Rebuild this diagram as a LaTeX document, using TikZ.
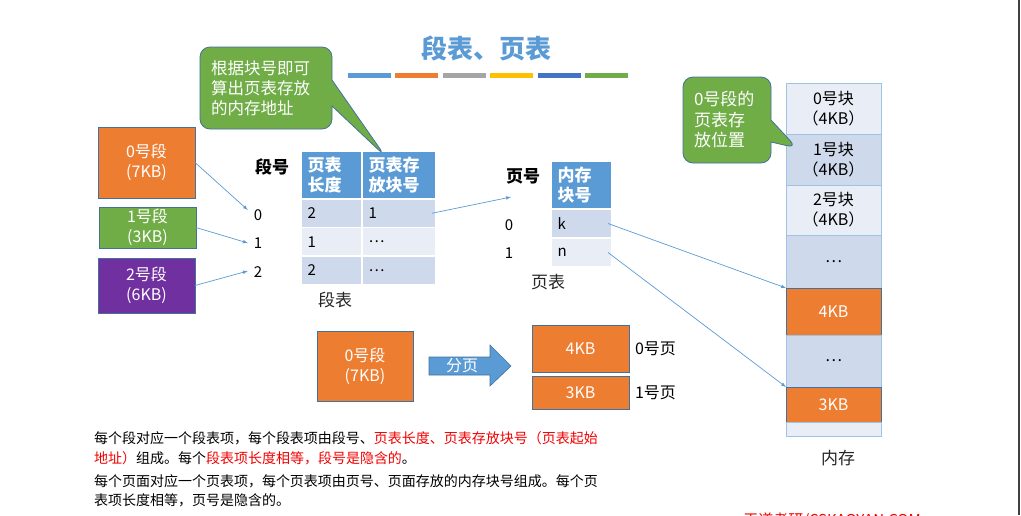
\documentclass[tikz,border=0pt]{standalone}
\usepackage{fontspec}
\setmainfont{Noto Sans CJK SC}
\usepackage{tikz}
\usetikzlibrary{positioning,shapes.callouts}
\definecolor{ppBlue}{HTML}{5B9BD5}
\definecolor{ppOrange}{HTML}{ED7D31}
\definecolor{ppGreen}{HTML}{70AD47}
\definecolor{ppPurple}{HTML}{7030A0}
\definecolor{edgeBlue}{HTML}{41719C}
\definecolor{rowDark}{HTML}{CFD9EC}
\definecolor{rowLight}{HTML}{E9EEF6}
\definecolor{memLine}{HTML}{9DC3E6}
\definecolor{barGray}{HTML}{A5A5A5}
\definecolor{barYellow}{HTML}{FFC000}
\definecolor{barNavy}{HTML}{4472C4}
\colorlet{noteRed}{red!95!black}

\begin{document}
\begin{tikzpicture}[x=1pt, y=-1pt,
    every node/.style={font=\fontsize{15}{18}\selectfont, inner sep=0pt, outer sep=0pt},
    segbox/.style={draw=edgeBlue, line width=0.8pt, text=white, align=center, font=\fontsize{16}{20}\selectfont},
    cell/.style={draw=white, line width=1.5pt, inner xsep=6.5pt, inner ysep=0pt, align=left, font=\fontsize{15}{18}\selectfont},
    headcell/.style={cell, fill=ppBlue, text=white, font=\bfseries\fontsize{17}{20}\selectfont},
    memblock/.style={draw=memLine, line width=0.8pt, fill=rowLight, minimum width=95pt, align=center, font=\fontsize{16}{20}\selectfont},
    hint/.style={rectangle callout, rounded corners=10pt, fill=ppGreen, draw=edgeBlue, line width=0.8pt, text=white, align=left},
    link/.style={-latex, ppBlue, line width=0.7pt},
    label/.style={font=\fontsize{17}{20}\selectfont, text=black!85}]

    \useasboundingbox[fill=white] (0,0) rectangle (1021,515);

    % title and colour bars
    \node[text=ppBlue, font=\bfseries\fontsize{26}{30}\selectfont] (title) at (486,48) {段表、页表};
    \foreach \x/\c in {348/ppBlue, 395/ppOrange, 443/barGray, 490/barYellow, 538/barNavy, 585/ppGreen}
        \draw[\c, line width=5pt] (\x,75) -- ++(43,0);

    % segments of the process
    \node[segbox, fill=ppOrange, minimum width=97pt, minimum height=71pt] (seg0) at (146.5,162.5) {0号段\\(7KB)};
    \node[segbox, fill=ppGreen, minimum width=97pt, minimum height=41pt] (seg1) at (147.5,227.5) {1号段\\(3KB)};
    \node[segbox, fill=ppPurple, minimum width=97pt, minimum height=55pt] (seg2) at (146.5,285.5) {2号段\\(6KB)};

    % segment table
    \node[font=\bfseries\fontsize{17}{20}\selectfont] (segNo) at (272,167) {段号};
    \node (idx0) at (258,215) {0};
    \node (idx1) at (258,243) {1};
    \node (idx2) at (258,272) {2};
    \node[headcell, anchor=north west, text width=48pt, minimum height=48pt] (segLen) at (301,151) {页表\\长度};
    \node[headcell, text width=61pt, minimum height=48pt, right=0pt of segLen] (segBlk) {页表存\\放块号};
    \node[cell, fill=rowDark, text width=48pt, minimum height=28.5pt, below=0pt of segLen] (segLen0) {2};
    \node[cell, fill=rowDark, text width=61pt, minimum height=28.5pt, below=0pt of segBlk] (segBlk0) {1};
    \node[cell, fill=rowLight, text width=48pt, minimum height=28.5pt, below=0pt of segLen0] (segLen1) {1};
    \node[cell, fill=rowLight, text width=61pt, minimum height=28.5pt, below=0pt of segBlk0] (segBlk1) {\dots};
    \node[cell, fill=rowDark, text width=48pt, minimum height=28.5pt, below=0pt of segLen1] (segLen2) {2};
    \node[cell, fill=rowDark, text width=61pt, minimum height=28.5pt, below=0pt of segBlk1] (segBlk2) {\dots};
    \node[label] (segCap) at (335,300) {段表};

    \draw[link] (seg0.east) -- ([shift={(-6,-5)}]idx0.west);
    \draw[link] (seg1.east) -- ([shift={(-6,0)}]idx1.west);
    \draw[link] (seg2.east) -- ([shift={(-6,-1)}]idx2.west);

    % page table of segment 0
    \node[font=\bfseries\fontsize{17}{20}\selectfont] (pgNo) at (523,176) {页号};
    \node (pidx0) at (509,225) {0};
    \node (pidx1) at (509,253) {1};
    \node[headcell, anchor=north west, text width=48pt, minimum height=48pt] (pgHead) at (551,161) {内存\\块号};
    \node[cell, fill=rowDark, text width=48pt, minimum height=29pt, below=0pt of pgHead] (pgK) {k};
    \node[cell, fill=rowLight, text width=48pt, minimum height=29pt, below=0pt of pgK] (pgN) {n};
    \node[label] (pgCap) at (548,282) {页表};

    \draw[link] ([xshift=-4pt]segBlk0.east) -- ([shift={(-40,-12)}]pgHead.south west);

    % main memory
    \node[memblock, anchor=north west, minimum height=51pt] (memB0) at (786,83) {0号块\\（4KB）};
    \node[memblock, fill=rowDark, minimum height=51pt, below=0pt of memB0] (memB1) {1号块\\（4KB）};
    \node[memblock, minimum height=50pt, below=0pt of memB1] (memB2) {2号块\\（4KB）};
    \node[memblock, fill=rowDark, minimum height=53pt, below=0pt of memB2] (memDotsA) {\dots};
    \node[memblock, fill=ppOrange, draw=edgeBlue, text=white, minimum height=47pt, below=0pt of memDotsA] (memPage0) {4KB};
    \node[memblock, fill=rowDark, minimum height=52pt, below=0pt of memPage0] (memDotsB) {\dots};
    \node[memblock, fill=ppOrange, draw=edgeBlue, text=white, minimum height=35pt, below=0pt of memDotsB] (memPage1) {3KB};
    \node[memblock, minimum height=14pt, below=0pt of memPage1] (memEnd) {};
    \node[label] (memCap) at (838,458) {内存};

    \draw[link] ([xshift=-4pt]pgK.east) -- (memPage0.north west);
    \draw[link] ([xshift=-4pt]pgN.east) -- (memPage1.north west);

    % callouts
    \node[hint, text width=110pt, minimum width=132pt, minimum height=82pt, font=\fontsize{16.5}{20}\selectfont,
        callout absolute pointer={(385,156)}, callout pointer width=26pt] (hintA) at (266,88) {根据块号即可\\算出页表存放\\的内存地址};
    \node[hint, text width=66pt, minimum width=88pt, minimum height=86pt, font=\fontsize{17}{20.5}\selectfont,
        callout absolute pointer={(797,148)}, callout pointer width=22pt] (hintB) at (727,120) {0号段的\\页表存\\放位置};

    % splitting a segment into pages
    \node[segbox, fill=ppOrange, minimum width=96pt, minimum height=70pt] (whole) at (365,366) {0号段\\(7KB)};
    \draw[fill=ppBlue, draw=edgeBlue, line width=0.6pt] (429,357) -- (490,357) -- (490,345) -- (511,366)
        -- (490,386) -- (490,375) -- (429,375) -- cycle;
    \node[text=white, font=\fontsize{16}{20}\selectfont] (split) at (462,366) {分页};
    \node[segbox, fill=ppOrange, minimum width=97pt, minimum height=47pt] (pageA) at (580.5,348.5) {4KB};
    \node[segbox, fill=ppOrange, minimum width=97pt, minimum height=33pt, below=4pt of pageA] (pageB) {3KB};
    \node[font=\fontsize{16}{20}\selectfont, right=6pt of pageA] (pageAName) {0号页};
    \node[font=\fontsize{16}{20}\selectfont, right=6pt of pageB] (pageBName) {1号页};

    % notes
    \node[anchor=west, font=\fontsize{14}{18}\selectfont] (noteA) at (94,438)
        {每个段对应一个段表项，每个段表项由段号、\textcolor{noteRed}{页表长度、页表存放块号（页表起始}};
    \node[anchor=west, font=\fontsize{14}{18}\selectfont] (noteB) at (94,458)
        {\textcolor{noteRed}{地址）}组成。每个\textcolor{noteRed}{段表项长度相等，段号是隐含的}。};
    \node[anchor=west, font=\fontsize{14}{18}\selectfont] (noteC) at (94,481)
        {每个页面对应一个页表项，每个页表项由页号、页面存放的内存块号组成。每个页};
    \node[anchor=west, font=\fontsize{14}{18}\selectfont] (noteD) at (94,500)
        {表项长度相等，页号是隐含的。};

    % watermark, cut by the page edge
    \begin{scope}
        \clip (0,0) rectangle (1021,515);
        \node[text=noteRed, font=\fontsize{15}{18}\selectfont] (mark) at (832,521) {王道考研/CSKAOYAN.COM};
    \end{scope}
    \draw[black!75, line width=2pt] (1019,0) -- (1019,515);
\end{tikzpicture}
\end{document}
